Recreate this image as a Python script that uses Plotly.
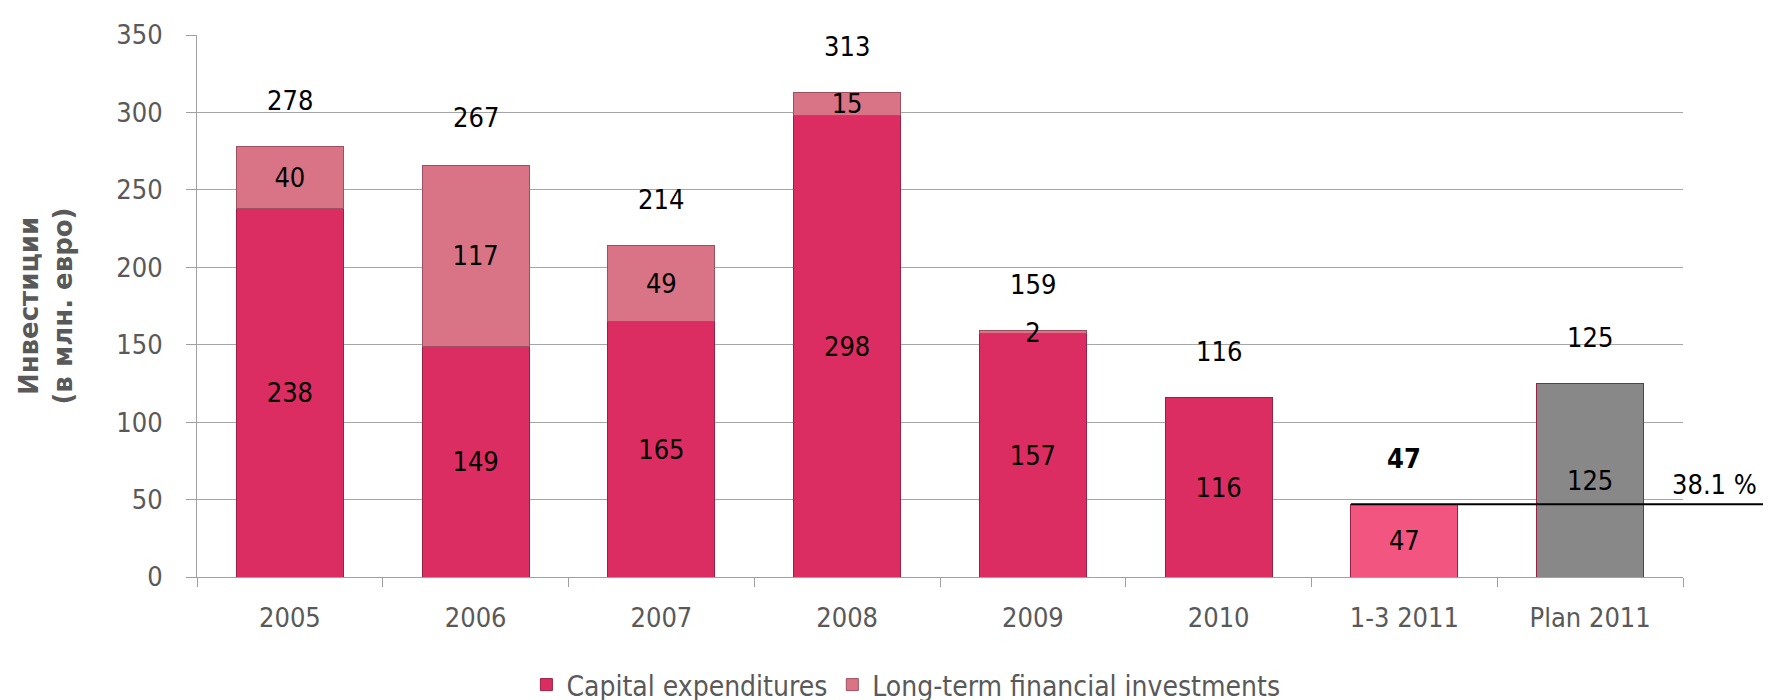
import plotly.graph_objects as go

categories = ['2005', '2006', '2007', '2008', '2009', '2010', '1-3 2011', 'Plan 2011']
capex = [238, 149, 165, 298, 157, 116, 47, 125]
lt_invest = [40, 117, 49, 15, 2, None, None, None]
totals = [278, 267, 214, 313, 159, 116, 47, 125]
bold_totals = ['1-3 2011']
line_category = '1-3 2011'
line_value = 47
line_label = '38.1 %'
y_ticks = [0, 50, 100, 150, 200, 250, 300, 350]

capex_color = '#DC2D62'
lt_color = '#D97487'
special_colors = {'1-3 2011': '#F2557F', 'Plan 2011': '#888888'}
bar_colors = [special_colors.get(c, capex_color) for c in categories]

FONT = 'DejaVu Sans Condensed, DejaVu Sans'
Y_MAX = 350
BAR_WIDTH = 0.575

fig = go.Figure()

fig.add_trace(go.Bar(
    x=categories, y=capex, name='Capital expenditures',
    marker=dict(color=bar_colors, line=dict(color='#9A2044', width=1)),
    text=[str(v) for v in capex],
    textposition='inside', insidetextanchor='middle', textangle=0,
    textfont=dict(family=FONT, size=27, color='black'),
))
fig.add_trace(go.Bar(
    x=categories, y=lt_invest, name='Long-term financial investments',
    marker=dict(color=lt_color, line=dict(color='#A04F60', width=1)),
    text=['' if v is None else str(v) for v in lt_invest],
    textposition='inside', insidetextanchor='middle', textangle=0,
    textfont=dict(family=FONT, size=27, color='black'),
))

annotations = []
# category positions by index (numeric-looking names would be read as numbers)
for i, (cat, tot) in enumerate(zip(categories, totals)):
    txt = f'<b>{tot}</b>' if cat in bold_totals else str(tot)
    annotations.append(dict(
        x=i, y=tot, xref='x', yref='y', text=txt, showarrow=False,
        yanchor='middle', yshift=46,
        font=dict(family=FONT, size=27, color='black'),
    ))

# reference line at the Q1 level, running from the Q1 bar to the right edge
n = len(categories)
idx = categories.index(line_category)
x0 = (idx + 0.5 - BAR_WIDTH / 2) / n
y_line = line_value / Y_MAX
annotations.append(dict(
    x=0.991, y=y_line, xref='paper', yref='paper', text=line_label,
    showarrow=False, xanchor='left', yanchor='bottom', yshift=2,
    font=dict(family=FONT, size=27, color='black'),
))

fig.update_layout(
    width=1771, height=700,
    barmode='stack',
    bargap=1 - BAR_WIDTH,
    plot_bgcolor='white', paper_bgcolor='white',
    margin=dict(l=189, r=96, t=27, b=131),
    font=dict(family=FONT, color='#595959'),
    uniformtext=dict(mode='show', minsize=27),
    xaxis=dict(
        type='category', categoryorder='array', categoryarray=categories,
        range=[-0.5, n - 0.5],
        showline=True, linecolor='#A0A0A0', linewidth=1,
        ticks='outside', tickson='boundaries', ticklen=9, tickcolor='#A0A0A0',
        tickfont=dict(family=FONT, size=27, color='#595959'),
        tickangle=0,
        ticklabelstandoff=17,
    ),
    yaxis=dict(
        range=[0, Y_MAX], tickvals=y_ticks,
        showline=True, linecolor='#A0A0A0', linewidth=1,
        ticks='outside', ticklen=10, tickcolor='#A0A0A0',
        showgrid=True, gridcolor='#A6A6A6', gridwidth=1,
        zeroline=False,
        tickfont=dict(family=FONT, size=27, color='#595959'),
        ticklabelstandoff=18,
        title=dict(text='<b>Инвестиции<br>(в млн. евро)</b>', standoff=36,
                   font=dict(family='DejaVu Sans', size=26, color='#595959')),
    ),
    legend=dict(
        orientation='h', xref='container', yref='container',
        x=0.507, xanchor='center', y=0.033, yanchor='middle',
        font=dict(family=FONT, size=28, color='#595959'),
        itemwidth=30, traceorder='normal',
    ),
    annotations=annotations,
    shapes=[dict(
        type='line', xref='paper', yref='paper',
        x0=x0, x1=1.0625, y0=y_line, y1=y_line,
        line=dict(color='black', width=2),
    )],
)

fig.write_html('out.html')
